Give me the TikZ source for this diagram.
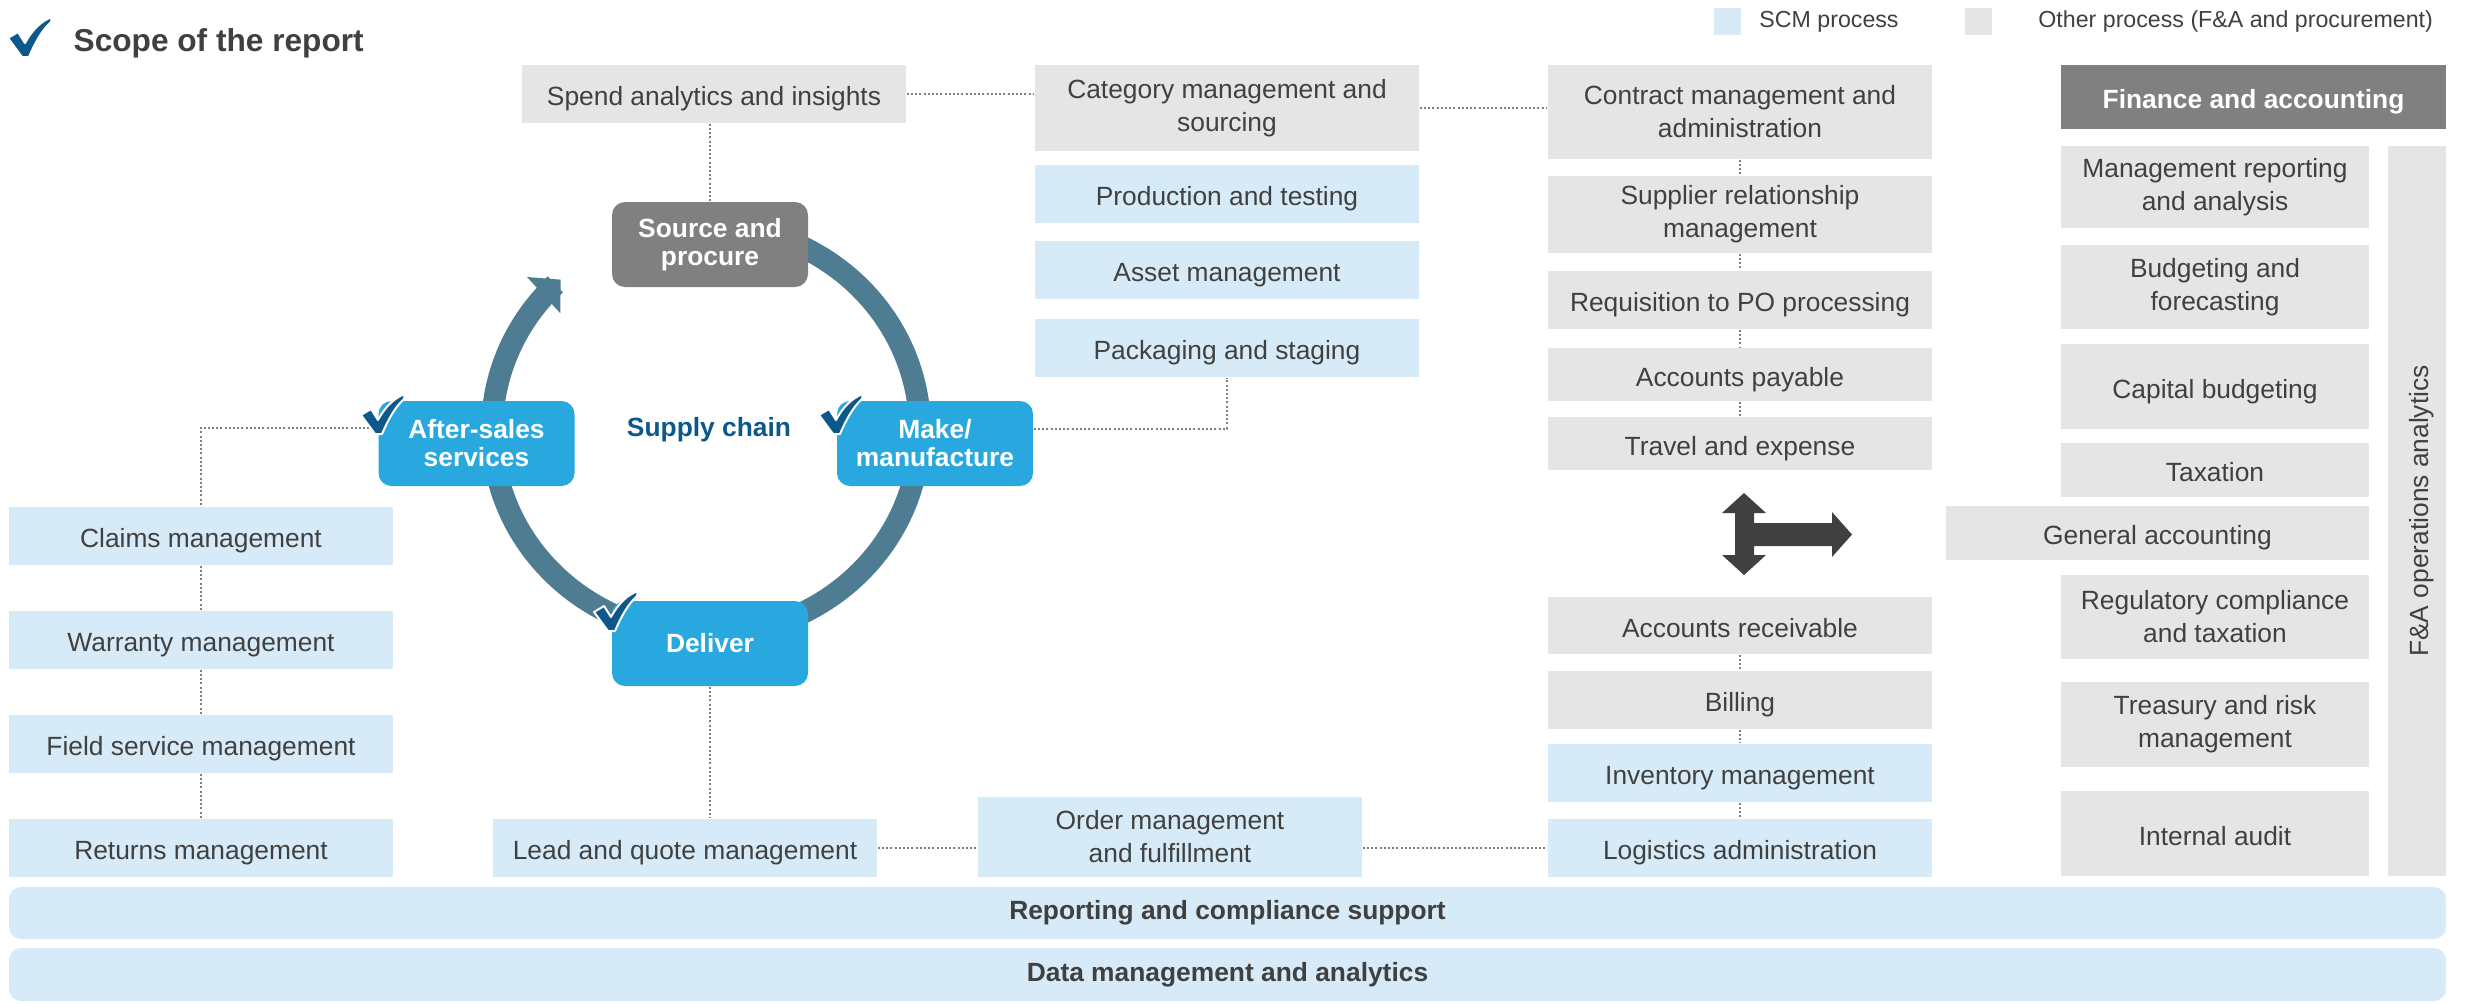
\documentclass[tikz,border=0pt]{standalone}
\usepackage{fontspec}
\setmainfont{Liberation Sans}
\usetikzlibrary{positioning,arrows.meta}

\definecolor{scmblue}{RGB}{214,235,247}
\definecolor{othergrey}{RGB}{229,229,229}
\definecolor{stageblue}{RGB}{41,168,224}
\definecolor{stagegrey}{RGB}{128,128,128}
\definecolor{txtgrey}{RGB}{64,64,64}
\definecolor{ringblue}{RGB}{78,124,146}
\definecolor{tickblue}{RGB}{12,88,138}
\definecolor{linkgrey}{RGB}{128,128,128}

\newcommand\bodyfont{\fontsize{7.5}{9.4}\selectfont}

\tikzset{
  proc/.style={inner sep=0pt, align=center, font=\bodyfont, text=txtgrey,
    minimum width=38.4mm, minimum height=5.8mm, text height=2.6mm, text depth=0.3mm},
  two/.style={text height=, text depth=},
  scm/.style={proc, fill=scmblue},
  other/.style={proc, fill=othergrey},
  fabox/.style={other, minimum width=30.8mm},
  stage/.style={inner sep=0pt, align=center, rounded corners=1.3mm, fill=stageblue,
    text=white, font=\fontsize{7.5}{8}\selectfont\bfseries, minimum width=19.6mm, minimum height=8.5mm},
  band/.style={inner sep=0pt, fill=scmblue, rounded corners=1.2mm, text=txtgrey,
    font=\bodyfont\bfseries, minimum width=243.7mm, minimum height=5.2mm},
  keytxt/.style={inner sep=0pt, font=\fontsize{6.6}{8}\selectfont, text=txtgrey},
  link/.style={draw=linkgrey, line width=0.2mm, dash pattern=on 0.2mm off 0.22mm},
  ring/.style={draw=ringblue, line width=2.2mm},
  tick/.pic={
    \filldraw[fill=tickblue, draw=white, line width=0.2mm, line join=round]
      (0,21) -- (10,15) -- (17,26) .. controls (24,13) and (33,4) .. (44,0)
      -- (43,5) .. controls (34,13) and (27,26) .. (21,40) -- (14,40) -- cycle;
  }
}

\begin{document}
\begin{tikzpicture}[x=0.1mm, y=-0.1mm]

	\useasboundingbox (0,0) rectangle (2465,1003);

	% heading and key
	\node[anchor=west, inner sep=0pt, font=\fontsize{9}{11}\selectfont\bfseries, text=txtgrey] (title) at (73,43) {Scope of the report};

	\node[fill=scmblue, inner sep=0pt, minimum size=2.7mm] (keyscm) at (1727.5,21.5) {};
	\node[keytxt, right=1.7mm of keyscm] (keyscmtxt) {SCM process};
	\node[fill=othergrey, inner sep=0pt, minimum size=2.7mm] (keyother) at (1978.5,21.5) {};
	\node[keytxt, right=4.5mm of keyother] (keyothertxt) {Other process (F\&A and procurement)};

	% supply chain cycle
	\draw[ring, {Triangle[length=2.3mm,width=4.8mm]}-] plot[domain=-227.2:90, samples=160] ({706+214*cos(\x)},{430-205*sin(\x)});

	\node[stage, fill=stagegrey] (source) at (710,244.5) {Source and\\procure};
	\node[stage] (make) at (935,443.5) {Make/\\manufacture};
	\node[stage] (after) at (476.5,443.5) {After-sales\\services};
	\node[stage] (deliver) at (710,643.5) {Deliver};
	\node[font=\bodyfont\bfseries, text=tickblue] (chain) at (709,430) {Supply chain};

	% after-sales column
	\node[scm] (claims) at (201,536) {Claims management};
	\node[scm] (warranty) at (201,640) {Warranty management};
	\node[scm] (field) at (201,744) {Field service management};
	\node[scm] (returns) at (201,848) {Returns management};

	% sourcing and make
	\node[other] (spend) at (714,94) {Spend analytics and insights};
	\node[other, two, minimum height=8.6mm] (category) at (1227,108) {Category management and\\sourcing};
	\node[scm] (production) at (1227,194) {Production and testing};
	\node[scm] (asset) at (1227,270) {Asset management};
	\node[scm] (packaging) at (1227,348) {Packaging and staging};

	% delivery
	\node[scm] (lead) at (685,848) {Lead and quote management};
	\node[scm, two, minimum height=8mm] (order) at (1170,837) {Order management\\and fulfillment};

	% procurement and billing column
	\node[other, two, minimum height=9.4mm] (contract) at (1740,112) {Contract management and\\administration};
	\node[other, two, minimum height=7.7mm] (supplier) at (1740,214.5) {Supplier relationship\\management};
	\node[other] (requisition) at (1740,300) {Requisition to PO processing};
	\node[other, minimum height=5.3mm] (payable) at (1740,374.5) {Accounts payable};
	\node[other, minimum height=5.3mm] (travel) at (1740,443.5) {Travel and expense};
	\node[other, minimum height=5.7mm] (receivable) at (1740,625.5) {Accounts receivable};
	\node[other] (billing) at (1740,700) {Billing};
	\node[scm] (inventory) at (1740,773) {Inventory management};
	\node[scm] (logistics) at (1740,848) {Logistics administration};

	\fill[txtgrey] (1744,493) -- (1766,513) -- (1754,513) -- (1754,523) -- (1832,523) -- (1832,512)
		-- (1852,534.5) -- (1832,557) -- (1832,546) -- (1754,546) -- (1754,555) -- (1766,555)
		-- (1744,575) -- (1722,555) -- (1735,555) -- (1735,513) -- (1722,513) -- cycle;

	% finance and accounting
	\node[proc, fill=stagegrey, text=white, font=\bodyfont\bfseries, minimum width=38.5mm, minimum height=6.4mm] (finance) at (2253.5,97) {Finance and accounting};
	\node[fabox, two, minimum height=8.2mm] (mgmtrep) at (2215,187) {Management reporting\\and analysis};
	\node[fabox, two, minimum height=8.4mm] (budget) at (2215,287) {Budgeting and\\forecasting};
	\node[fabox, minimum height=8.5mm] (capital) at (2215,386.5) {Capital budgeting};
	\node[fabox, minimum height=5.4mm] (taxation) at (2215,470) {Taxation};
	\node[fabox, minimum width=42.3mm, minimum height=5.4mm] (general) at (2157.5,533) {General accounting};
	\node[fabox, two, minimum height=8.4mm] (regulatory) at (2215,617) {Regulatory compliance\\and taxation};
	\node[fabox, two, minimum height=8.5mm] (treasury) at (2215,724.5) {Treasury and risk\\management};
	\node[fabox, minimum height=8.5mm] (audit) at (2215,833.5) {Internal audit};
	\node[other, rotate=90, minimum width=73mm, minimum height=5.8mm] (faops) at (2417,511) {F\&A operations analytics};

	% support layers
	\node[band] (reporting) at (1227.5,913) {Reporting and compliance support};
	\node[band, minimum height=5.3mm] (data) at (1227.5,974.5) {Data management and analytics};

	% dotted links
	\draw[link] (spend.east) -- (spend.east -| category.west);
	\draw[link] (source.north |- spend.south) -- (source.north);
	\draw[link] (category.east) -- (category.east -| contract.west);
	\draw[link] ([yshift=1.5mm]make.east) -| (packaging.south);
	\draw[link] ([yshift=1.6mm]after.west) -| (claims.north);
	\draw[link] (deliver.south) -- (deliver.south |- lead.north);
	\draw[link] (lead.east) -- (lead.east -| order.west);
	\draw[link] (logistics.west -| order.east) -- (logistics.west);
	\foreach \a/\b in {claims/warranty, warranty/field, field/returns}
		\draw[link] (\a.south) -- (\b.north);
	\foreach \a/\b in {contract/supplier, supplier/requisition, requisition/payable, payable/travel,
		receivable/billing, billing/inventory, inventory/logistics}
		\draw[link] (\a.south) -- (\b.north);

	% ticks
	\pic at (8,17) {tick};
	\pic at (361,394) {tick};
	\pic at (819,394) {tick};
	\pic at (594,591) {tick};

\end{tikzpicture}
\end{document}
